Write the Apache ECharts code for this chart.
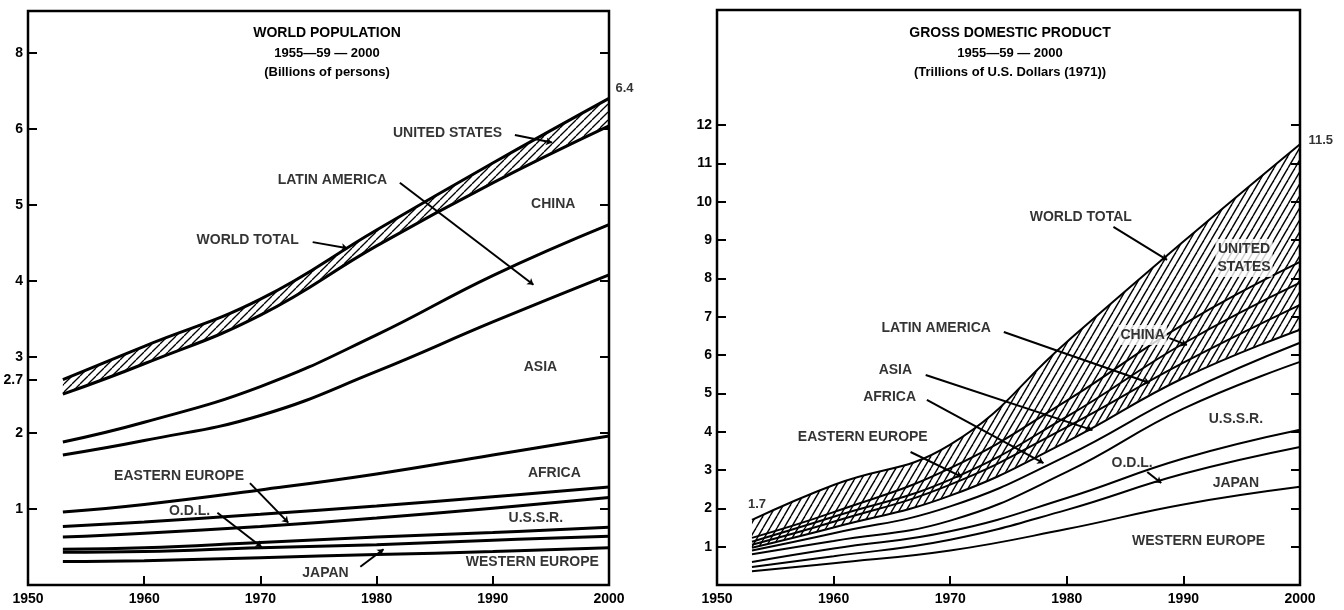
<!DOCTYPE html>
<html><head><meta charset="utf-8">
<script src="https://cdn.jsdelivr.net/npm/echarts@6/dist/echarts.min.js"></script>
<style>html,body{margin:0;padding:0;background:#fff}#c{width:1344px;height:610px}</style>
</head><body><div id="c"></div>
<script>
// ---------- shared ----------
const years = [1953, 1960, 1970, 1980, 1990, 2000];
const regionNames = ['WESTERN EUROPE', 'JAPAN', 'O.D.L.', 'U.S.S.R.', 'EASTERN EUROPE', 'AFRICA', 'ASIA', 'LATIN AMERICA', 'CHINA', 'UNITED STATES'];
const xTickYears = [1960, 1970, 1980, 1990];
const xLabelYears = [1950, 1960, 1970, 1980, 1990, 2000];

// ---------- World population (billions of persons), band per region, bottom to top ----------
const popWesternEurope = [0.31, 0.32, 0.36, 0.40, 0.44, 0.49];
const popJapan         = [0.12, 0.12, 0.13, 0.13, 0.15, 0.15];
const popODL           = [0.04, 0.05, 0.07, 0.10, 0.10, 0.12];
const popUSSR          = [0.16, 0.19, 0.21, 0.25, 0.32, 0.39];
const popEasternEurope = [0.14, 0.15, 0.16, 0.16, 0.15, 0.14];
const popAfrica        = [0.19, 0.23, 0.32, 0.42, 0.55, 0.67];
const popAsia          = [0.75, 0.84, 0.98, 1.35, 1.75, 2.12];
const popLatinAmerica  = [0.17, 0.24, 0.38, 0.48, 0.61, 0.66];
const popChina         = [0.63, 0.77, 0.94, 1.17, 1.22, 1.30];
const popUnitedStates  = [0.19, 0.23, 0.21, 0.21, 0.26, 0.36];
const popTickValues = [1, 2, 2.7, 3, 4, 5, 6, 7];
const popTickLabels = ['1', '2', '2.7', '3', '4', '5', '6', '8'];
const popRightTicks = [1, 2, 3, 4, 5, 6, 7];

// ---------- Gross domestic product (trillions of 1971 US$), band per region, bottom to top ----------
const gdpWesternEurope = [0.36, 0.57, 0.90, 1.46, 2.10, 2.56];
const gdpJapan         = [0.11, 0.18, 0.28, 0.50, 0.80, 1.04];
const gdpODL           = [0.13, 0.20, 0.22, 0.31, 0.40, 0.45];
const gdpUSSR          = [0.20, 0.20, 0.28, 0.68, 1.30, 1.77];
const gdpEasternEurope = [0.10, 0.20, 0.37, 0.42, 0.40, 0.50];
const gdpAfrica        = [0.07, 0.15, 0.28, 0.37, 0.40, 0.34];
const gdpAsia          = [0.08, 0.15, 0.29, 0.38, 0.40, 0.65];
const gdpLatinAmerica  = [0.08, 0.13, 0.13, 0.27, 0.50, 0.58];
const gdpChina         = [0.10, 0.12, 0.30, 0.42, 0.50, 0.54];
const gdpUnitedStates  = [0.47, 0.71, 0.61, 1.53, 2.16, 3.07];
const gdpTickValues = [1, 2, 3, 4, 5, 6, 7, 8, 9, 10, 11, 12];

// ---------- annotations (data coordinates: [year, value]) ----------
const popNotes = [
  ['UNITED STATES', 1986.1, 5.95], ['LATIN AMERICA', 1976.2, 5.33], ['WORLD TOTAL', 1968.9, 4.54],
  ['CHINA', 1995.2, 5.01], ['ASIA', 1994.1, 2.86], ['AFRICA', 1995.3, 1.47], ['U.S.S.R.', 1993.7, 0.88],
  ['WESTERN EUROPE', 1993.4, 0.30], ['JAPAN', 1975.6, 0.16], ['EASTERN EUROPE', 1963.0, 1.43], ['O.D.L.', 1963.9, 0.97]
];
const popArrows = [
  [[1991.9, 5.92], [1995.1, 5.82]], [[1982.0, 5.29], [1993.5, 3.95]], [[1974.5, 4.51], [1977.5, 4.43]],
  [[1978.6, 0.24], [1980.6, 0.47]], [[1969.1, 1.34], [1972.4, 0.82]], [[1966.3, 0.95], [1970.1, 0.50]]
];
const gdpNotes = [
  ['WORLD TOTAL', 1981.2, 9.60], ['UNITED\nSTATES', 1995.2, 8.53], ['CHINA', 1986.5, 6.52],
  ['LATIN AMERICA', 1968.8, 6.70], ['ASIA', 1965.3, 5.61], ['AFRICA', 1964.8, 4.90], ['EASTERN EUROPE', 1962.5, 3.86],
  ['U.S.S.R.', 1994.5, 4.33], ['O.D.L.', 1985.6, 3.18], ['JAPAN', 1994.5, 2.66], ['WESTERN EUROPE', 1991.3, 1.15]
];
const gdpArrows = [
  [[1984.0, 9.34], [1988.6, 8.48]], [[1988.8, 6.44], [1990.3, 6.26]], [[1974.6, 6.60], [1987.1, 5.27]],
  [[1967.9, 5.48], [1982.2, 4.04]], [[1968.0, 4.83], [1978.0, 3.18]], [[1966.6, 3.47], [1971.0, 2.82]],
  [[1986.9, 2.95], [1988.1, 2.66]]
];
const popEnd = { world1953: 2.7, world2000: 6.4 };
const gdpEnd = { world1953: 1.7, world2000: 11.5 };

// ---------- helpers ----------
const FONT = "'Liberation Sans', Arial, sans-serif";
function hatch(w, h, lw) {
  const c = document.createElement('canvas'); c.width = w; c.height = h;
  const g = c.getContext('2d');
  g.fillStyle = '#fff'; g.fillRect(0, 0, w, h);
  g.strokeStyle = '#000'; g.lineWidth = lw;
  for (let k = -1; k <= 1; k++) { g.beginPath(); g.moveTo(k * w, h); g.lineTo(k * w + w, 0); g.stroke(); }
  return c;
}
const popHatch = { image: hatch(8, 8, 1.3), repeat: 'repeat' };
const gdpHatch = { image: hatch(7, 12, 1.4), repeat: 'repeat' };

// cumulative boundary table built from the band arrays
function cumulative(arrays) {
  const out = []; let run = years.map(() => 0);
  arrays.forEach(arr => { run = run.map((v, j) => +(v + arr[j]).toFixed(4)); out.push(run.slice()); });
  return out;
}
// top band first; hatched bands are filled down to the axis, the band right below them
// paints white to erase the hatch underneath
function bandSeries(arrays, xi, yi, width, hatchSet, pattern) {
  const cum = cumulative(arrays);
  const eraser = Math.min.apply(null, hatchSet) - 1;
  const list = [];
  for (let i = cum.length - 1; i >= 0; i--) {
    let area;
    if (hatchSet.includes(i)) area = { color: pattern, opacity: 1, origin: 'start' };
    else if (i === eraser) area = { color: '#fff', opacity: 1, origin: 'start', shadowColor: '#fff', shadowOffsetX: -2, shadowBlur: 0 };
    list.push({
      name: regionNames[i], type: 'line', xAxisIndex: xi, yAxisIndex: yi,
      data: cum[i].map((v, j) => [years[j], v]),
      symbol: 'none', smooth: 0.45,
      lineStyle: { color: '#000', width: width }, itemStyle: { color: '#000' },
      areaStyle: area,
      emphasis: { disabled: true }, silent: true, z: 2
    });
  }
  return list;
}
function noteSeries(notes, xi, yi, whiteBg) {
  return {
    type: 'scatter', xAxisIndex: xi, yAxisIndex: yi, symbolSize: 1, silent: true, z: 5,
    itemStyle: { color: 'rgba(0,0,0,0)' },
    data: notes.map(n => ({ name: n[0], value: [n[1], n[2]],
      label: whiteBg.includes(n[0]) ? { backgroundColor: '#fff', padding: [1, 2] } : undefined })),
    label: { show: true, position: 'inside', formatter: '{b}', color: '#000', fontFamily: FONT,
      fontWeight: 'bold', fontSize: 14, lineHeight: 18 }
  };
}
function arrowSeries(arrows, xi, yi) {
  return {
    type: 'lines', coordinateSystem: 'cartesian2d', xAxisIndex: xi, yAxisIndex: yi, silent: true, z: 4,
    symbol: ['none', 'arrow'], symbolSize: 6,
    lineStyle: { color: '#000', width: 2, opacity: 1 },
    data: arrows.map(a => ({ coords: a }))
  };
}
function endLabel(text, x, y, xi, yi, pos, offset) {
  return {
    type: 'scatter', xAxisIndex: xi, yAxisIndex: yi, symbolSize: 1, silent: true, z: 5, clip: false,
    itemStyle: { color: 'rgba(0,0,0,0)' },
    data: [{ name: text, value: [x, y] }],
    label: { show: true, position: pos, distance: 6, offset: offset, formatter: '{b}', color: '#000',
      fontFamily: FONT, fontWeight: 'bold', fontSize: 13 }
  };
}
const labelStyle = { color: '#000', fontFamily: FONT, fontWeight: 'bold', fontSize: 14 };
function xAxis(gi) {
  return {
    gridIndex: gi, type: 'value', min: 1950, max: 2000, splitLine: { show: false }, z: 10,
    axisLine: { show: false },
    axisTick: { show: true, inside: true, length: 9, customValues: xTickYears, lineStyle: { color: '#000', width: 2 } },
    axisLabel: Object.assign({ customValues: xLabelYears, margin: 7, formatter: v => String(v) }, labelStyle)
  };
}
function yAxis(gi, max, ticks, labels, right) {
  return {
    gridIndex: gi, type: 'value', min: 0, max: max, position: right ? 'right' : 'left', z: 10,
    splitLine: { show: false }, axisLine: { show: false },
    axisTick: { show: true, inside: true, length: 9, customValues: ticks, lineStyle: { color: '#000', width: 2 } },
    axisLabel: labels ? Object.assign({ show: true, customValues: ticks, margin: 5,
      formatter: v => { const i = ticks.findIndex(t => Math.abs(t - v) < 1e-6); return i >= 0 ? labels[i] : ''; } }, labelStyle)
      : { show: false }
  };
}
function titleText(x, y, text, size) {
  return { type: 'text', x: x, y: y, silent: true, z: 10,
    style: { text: text, fill: '#000', font: 'bold ' + size + 'px ' + FONT, textAlign: 'center', textVerticalAlign: 'middle' } };
}

const popArrays = [popWesternEurope, popJapan, popODL, popUSSR, popEasternEurope, popAfrica, popAsia, popLatinAmerica, popChina, popUnitedStates];
const gdpArrays = [gdpWesternEurope, gdpJapan, gdpODL, gdpUSSR, gdpEasternEurope, gdpAfrica, gdpAsia, gdpLatinAmerica, gdpChina, gdpUnitedStates];

const chart = echarts.init(document.getElementById('c'), null, { renderer: 'canvas' });
chart.setOption({
  animation: false,
  backgroundColor: '#fff',
  grid: [
    { left: 28, right: 735, top: 11, bottom: 25, show: true, z: 10, borderColor: '#000', borderWidth: 2.5, backgroundColor: 'transparent' },
    { left: 717, right: 44, top: 10, bottom: 25, show: true, z: 10, borderColor: '#000', borderWidth: 2.5, backgroundColor: 'transparent' }
  ],
  xAxis: [xAxis(0), xAxis(1)],
  yAxis: [
    yAxis(0, 7.55, popTickValues, popTickLabels, false),
    yAxis(0, 7.55, popRightTicks, null, true),
    yAxis(1, 15, gdpTickValues, gdpTickValues.map(String), false),
    yAxis(1, 15, gdpTickValues, null, true)
  ],
  graphic: [
    titleText(327, 33, 'WORLD POPULATION', 14), titleText(327, 53, '1955—59 — 2000', 13), titleText(327, 72, '(Billions of persons)', 13),
    titleText(1010, 33, 'GROSS DOMESTIC PRODUCT', 14), titleText(1010, 53, '1955—59 — 2000', 13), titleText(1010, 72, '(Trillions of U.S. Dollars (1971))', 13)
  ],
  series: [].concat(
    bandSeries(popArrays, 0, 0, 3, [9], popHatch),
    bandSeries(gdpArrays, 1, 2, 2, [6, 7, 8, 9], gdpHatch),
    [arrowSeries(popArrows, 0, 0), arrowSeries(gdpArrows, 1, 2),
     noteSeries(popNotes, 0, 0, []), noteSeries(gdpNotes, 1, 2, ['UNITED\nSTATES', 'CHINA']),
     endLabel(String(popEnd.world2000), 2000, popEnd.world2000, 0, 0, 'right', [0, -10]),
     endLabel(String(gdpEnd.world2000), 2000, gdpEnd.world2000, 1, 2, 'right', [2, -4]),
     endLabel(String(gdpEnd.world1953), 1953, gdpEnd.world1953, 1, 2, 'top', [5, -2])]
  )
});
</script></body></html>
